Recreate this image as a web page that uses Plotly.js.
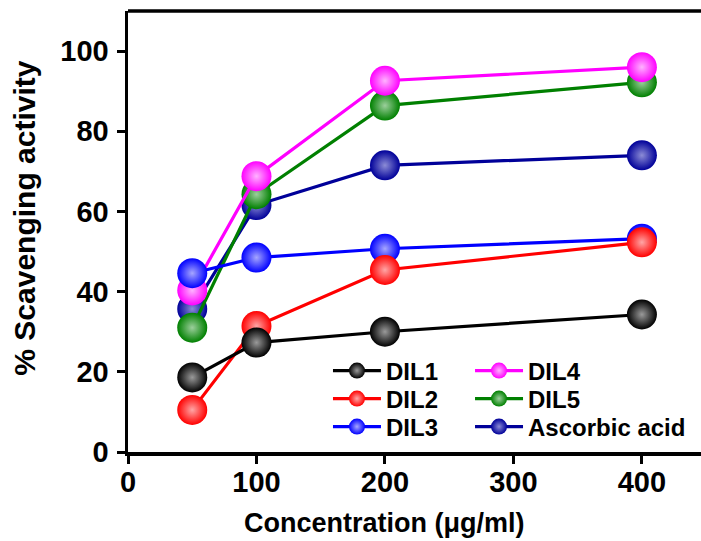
<!DOCTYPE html>
<html>
<head>
<meta charset="utf-8">
<script src="https://cdn.plot.ly/plotly-3.0.1.min.js"></script>
<style>html,body{margin:0;padding:0;background:#fff;}#chart{width:701px;height:541px;}</style>
</head>
<body>
<div id="chart"></div>
<script>
// Concentration (µg/ml)
const conc = [50, 100, 200, 400];
// % scavenging activity per series
const dil1 = [18.6, 27.3, 30.0, 34.3];
const dil2 = [10.5, 31.4, 45.4, 52.3];
const dil3 = [44.6, 48.5, 50.7, 53.2];
const dil4 = [40.3, 68.8, 92.6, 96.0];
const dil5 = [31.0, 64.3, 86.4, 92.2];
const ascorbic = [35.7, 61.6, 71.5, 74.0];
const names = ["DIL1", "DIL2", "DIL3", "DIL4", "DIL5", "Ascorbic acid"];
const xTicks = [0, 100, 200, 300, 400];
const yTicks = [0, 20, 40, 60, 80, 100];

const FONT = "Liberation Sans, Arial, sans-serif";

function tr(name, y, color, hi, legend) {
  return {
    type: "scatter", mode: "lines+markers", name: name, x: conc, y: y,
    line: {color: color, width: 3.2},
    marker: {size: 30, color: color, line: {width: 0},
             gradient: {type: "radial", color: hi}},
    legend: legend
  };
}

// draw order: last on top
const data = [
  tr(names[5], ascorbic, "#000099", "#8c8cd6", "legend6"),
  tr(names[4], dil5, "#008000", "#9ccf9c", "legend5"),
  tr(names[3], dil4, "#ff00ff", "#ffb3ff", "legend4"),
  tr(names[2], dil3, "#0000ff", "#a6a6ff", "legend3"),
  tr(names[1], dil2, "#ff0000", "#ffa6a6", "legend2"),
  tr(names[0], dil1, "#000000", "#9a9a9a", "legend")
];

function leg(x, y) {
  return {
    bgcolor: "rgba(0,0,0,0)", borderwidth: 0,
    font: {family: FONT, size: 24, color: "#000", weight: "bold"},
    itemwidth: 48, x: x, y: y, xanchor: "left", yanchor: "middle",
    xref: "paper", yref: "paper"
  };
}
const colX = [0.3490, 0.5969];
const rowY = [0.1837, 0.1202, 0.0567];

const layout = {
  width: 701, height: 541,
  margin: {l: 128, r: 0, t: 11, b: 89, autoexpand: false},
  paper_bgcolor: "#fff", plot_bgcolor: "#fff",
  showlegend: true,
  font: {family: FONT, color: "#000"},
  xaxis: {
    range: [0, 446], tickvals: xTicks, ticktext: xTicks.map(String),
    showline: true, linewidth: 3.5, linecolor: "#000", mirror: false,
    ticks: "outside", ticklen: 8, tickwidth: 3, tickcolor: "#000",
    showgrid: false, zeroline: false, ticklabelstandoff: -6,
    tickfont: {family: FONT, size: 29, color: "#000", weight: "bold"}
  },
  yaxis: {
    range: [0, 110], tickvals: yTicks, ticktext: yTicks.map(String),
    showline: true, linewidth: 3.5, linecolor: "#000", mirror: false,
    ticks: "outside", ticklen: 8, tickwidth: 3, tickcolor: "#000",
    showgrid: false, zeroline: false, ticklabelstandoff: 2,
    tickfont: {family: FONT, size: 29, color: "#000", weight: "bold"}
  },
  legend: leg(colX[0], rowY[0]),
  legend2: leg(colX[0], rowY[1]),
  legend3: leg(colX[0], rowY[2]),
  legend4: leg(colX[1], rowY[0]),
  legend5: leg(colX[1], rowY[1]),
  legend6: leg(colX[1], rowY[2]),
  shapes: [{type: "line", xref: "paper", yref: "paper", x0: 0, x1: 1.01, y0: 1, y1: 1,
            line: {color: "#000", width: 3.5}}],
  annotations: [
    {text: "Concentration (μg/ml)", xref: "paper", yref: "paper", x: 0.448, y: -0.162,
     xanchor: "center", yanchor: "middle", showarrow: false,
     font: {family: FONT, size: 27, color: "#000", weight: "bold"}},
    {text: "% Scavenging activity", xref: "paper", yref: "paper", x: -0.18, y: 0.531,
     xanchor: "center", yanchor: "middle", showarrow: false, textangle: -90,
     font: {family: FONT, size: 30, color: "#000", weight: "bold"}}
  ]
};

Plotly.newPlot("chart", data, layout, {displayModeBar: false, staticPlot: true});
</script>
</body>
</html>
